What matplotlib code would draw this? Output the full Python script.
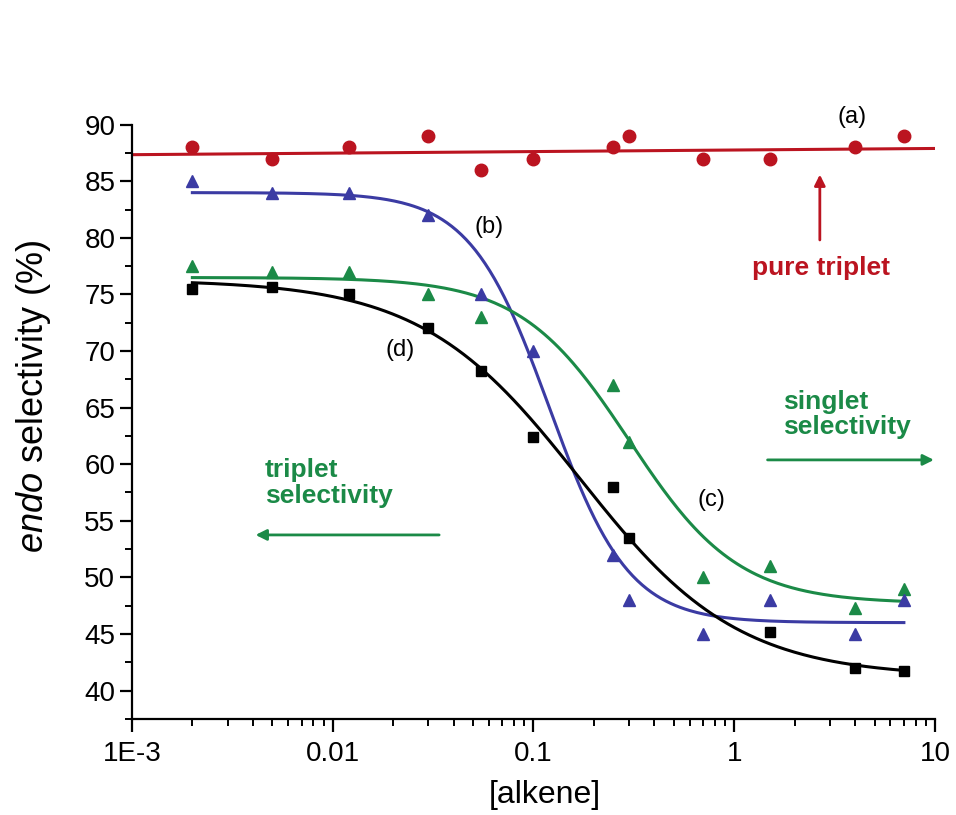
import numpy as np
import matplotlib
matplotlib.use("Agg")
import matplotlib.pyplot as plt
from matplotlib.ticker import FixedLocator, FixedFormatter, LogLocator, NullFormatter, MultipleLocator

plt.rcParams["font.family"] = ["Liberation Sans", "DejaVu Sans"]
plt.rcParams["mathtext.fontset"] = "custom"
plt.rcParams["mathtext.it"] = "Liberation Sans:italic"
plt.rcParams["mathtext.rm"] = "Liberation Sans"

# measured points, [alkene] vs endo selectivity (%)
x_a = [0.002, 0.005, 0.012, 0.03, 0.055, 0.1, 0.25, 0.3, 0.7, 1.5, 4, 7]
y_a = [88, 87, 88, 89, 86, 87, 88, 89, 87, 87, 88, 89]

x_b = [0.002, 0.005, 0.012, 0.03, 0.055, 0.1, 0.25, 0.3, 0.7, 1.5, 4, 7]
y_b = [85, 84, 84, 82, 75, 70, 52, 48, 45, 48, 45, 48]

x_c = [0.002, 0.005, 0.012, 0.03, 0.055, 0.25, 0.3, 0.7, 1.5, 4, 7]
y_c = [77.5, 77, 77, 75, 73, 67, 62, 50, 51, 47.3, 49]

x_d = [0.002, 0.005, 0.012, 0.03, 0.055, 0.1, 0.25, 0.3, 1.5, 4, 7]
y_d = [75.5, 75.7, 75, 72, 68.2, 62.4, 58, 53.5, 45.2, 42, 41.7]

# fitted curves (a: straight line, b-d: logistic dose-response A1, A2, x0, p)
fit_a_x = [1e-3, 10]
fit_a_y = [87.35, 87.9]
fit_b = (84.0, 46.0, 0.12, 2.2)
fit_c = (76.5, 47.7, 0.30, 1.6)
fit_d = (76.3, 41.2, 0.17, 1.1)

red = "#bb1420"
blue = "#3b3ba3"
green = "#1b8a47"
black = "#000000"


def logistic(x, a1, a2, x0, p):
    return a2 + (a1 - a2) / (1 + (x / x0) ** p)


fig = plt.figure(figsize=(9.56, 8.15), dpi=100)
ax = fig.add_axes([0.138, 0.118, 0.840, 0.729])

xs = np.logspace(np.log10(0.002), np.log10(7), 300)
ax.plot(fit_a_x, fit_a_y, color=red, lw=2.2)
ax.plot(xs, logistic(xs, *fit_b), color=blue, lw=2.2)
ax.plot(xs, logistic(xs, *fit_c), color=green, lw=2.2)
ax.plot(xs, logistic(xs, *fit_d), color=black, lw=2.2)

ax.plot(x_a, y_a, "o", color=red, ms=9, ls="none")
ax.plot(x_d, y_d, "s", color=black, ms=7.5, ls="none")
ax.plot(x_c, y_c, "^", color=green, ms=9, ls="none")
ax.plot(x_b, y_b, "^", color=blue, ms=9, ls="none")

ax.set_xscale("log")
ax.set_xlim(1e-3, 10)
ax.set_ylim(37.5, 90)

ax.xaxis.set_major_locator(FixedLocator([1e-3, 1e-2, 1e-1, 1, 10]))
ax.xaxis.set_major_formatter(FixedFormatter(["1E-3", "0.01", "0.1", "1", "10"]))
ax.xaxis.set_minor_locator(LogLocator(base=10, subs=np.arange(2, 10), numticks=20))
ax.xaxis.set_minor_formatter(NullFormatter())
ax.yaxis.set_major_locator(FixedLocator(np.arange(40, 91, 5)))
ax.yaxis.set_minor_locator(MultipleLocator(2.5))

for s in ["top", "right"]:
    ax.spines[s].set_visible(False)
for s in ["left", "bottom"]:
    ax.spines[s].set_linewidth(1.6)
ax.tick_params(which="major", direction="out", length=9, width=1.6, labelsize=20, pad=3)
ax.tick_params(axis="x", which="major", pad=7)
ax.tick_params(which="minor", direction="out", length=5, width=1.4)

ax.set_xlabel("[alkene]", fontsize=23)
ax.xaxis.set_label_coords(0.514, -0.103)
ax.set_ylabel(r"$\mathit{endo}$ selectivity (%)", fontsize=26, va="center")
ax.yaxis.set_label_coords(-0.123, 0.542)

ax.text(3.86, 90.7, "(a)", fontsize=17, ha="center", va="center")
ax.text(0.060, 81.0, "(b)", fontsize=17, ha="center", va="center")
ax.text(0.766, 56.8, "(c)", fontsize=17, ha="center", va="center")
ax.text(0.0216, 70.1, "(d)", fontsize=17, ha="center", va="center")

ax.text(2.70, 77.3, "pure triplet", fontsize=19, color=red, fontweight="bold", ha="center", va="center")
ax.annotate("", xy=(2.67, 85.84), xytext=(2.67, 79.57),
            arrowprops=dict(arrowstyle="-|>", color=red, lw=2, mutation_scale=16))

ax.text(1.75, 66.6, "singlet\nselectivity", fontsize=19, color=green, fontweight="bold",
        ha="left", va="top", linespacing=1.1)
ax.annotate("", xy=(10.2, 60.38), xytext=(1.42, 60.38), annotation_clip=False,
            arrowprops=dict(arrowstyle="-|>", color=green, lw=2, mutation_scale=16))

ax.text(0.0046, 60.56, "triplet\nselectivity", fontsize=19, color=green, fontweight="bold",
        ha="left", va="top", linespacing=1.1)
ax.annotate("", xy=(0.004, 53.75), xytext=(0.035, 53.75),
            arrowprops=dict(arrowstyle="-|>", color=green, lw=2, mutation_scale=16))

fig.savefig("out.png", dpi=100)
